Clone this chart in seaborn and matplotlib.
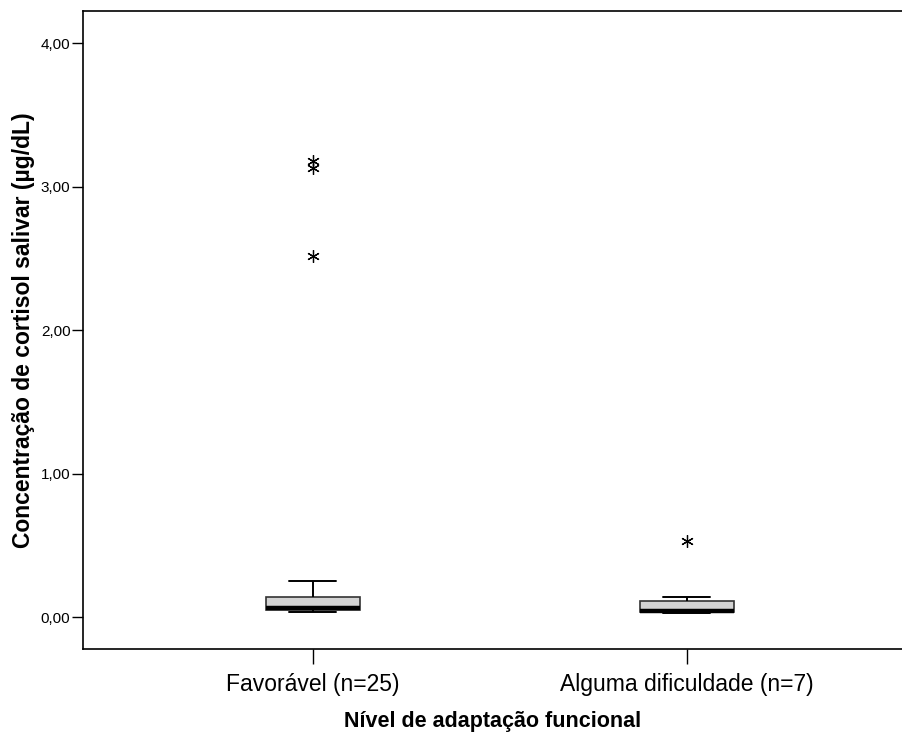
import matplotlib
matplotlib.use("Agg")
import matplotlib.pyplot as plt
import seaborn as sns
import pandas as pd

categories = ["Favorável (n=25)", "Alguma dificuldade (n=7)"]
favoravel = [0.033, 0.036, 0.040, 0.043, 0.045, 0.047, 0.049, 0.052, 0.055,
             0.058, 0.061, 0.064, 0.066, 0.075, 0.085, 0.098, 0.112, 0.128,
             0.142, 0.165, 0.198, 0.251, 2.52, 3.13, 3.18]
dificuldade = [0.030, 0.032, 0.034, 0.044, 0.088, 0.140, 0.53]
yticks = [0.0, 1.0, 2.0, 3.0, 4.0]
ytick_labels = ["0,00", "1,00", "2,00", "3,00", "4,00"]

df = pd.DataFrame({
    "grupo": [categories[0]] * len(favoravel) + [categories[1]] * len(dificuldade),
    "valor": favoravel + dificuldade,
})

sns.set_theme(style="white")
plt.rcParams["font.family"] = ["Liberation Sans", "DejaVu Sans"]
plt.rcParams["text.color"] = "black"
plt.rcParams["axes.labelcolor"] = "black"
plt.rcParams["xtick.color"] = "black"
plt.rcParams["ytick.color"] = "black"

fig = plt.figure(figsize=(9.03, 7.35), dpi=100)
ax = fig.add_axes([83 / 903, 1 - 649 / 735, 1 - 83 / 903, (649 - 11) / 735])

sns.boxplot(data=df, x="grupo", y="valor", order=categories, ax=ax,
            width=0.251, color="#d3d3d3", whis=1.5,
            boxprops=dict(facecolor="#d3d3d3", edgecolor="#333333", linewidth=1.2),
            medianprops=dict(color="black", linewidth=3.2),
            whiskerprops=dict(color="black", linewidth=1.4),
            capprops=dict(color="black", linewidth=1.4),
            flierprops=dict(marker=(6, 2, 0), markersize=9, markeredgecolor="black",
                            markerfacecolor="black", markeredgewidth=0.9))

ax.set_ylim(-0.223, 4.226)
ax.set_xlim(-0.615, 1.578)
ax.set_yticks(yticks)
ax.set_yticklabels(ytick_labels, fontsize=11)
ax.tick_params(axis="y", direction="out", length=8, width=1, color="black", pad=1,
               left=True, labelcolor="black")
ax.tick_params(axis="x", direction="out", length=11, width=1, color="black", pad=6,
               bottom=True, labelsize=16.5, labelcolor="black")

for side in ["left", "bottom", "top"]:
    ax.spines[side].set_visible(True)
    ax.spines[side].set_color("black")
    ax.spines[side].set_linewidth(1.2)
ax.spines["right"].set_visible(False)

ax.set_xlabel("Nível de adaptação funcional", fontsize=15.5, fontweight="bold",
              labelpad=11, color="black")
ax.set_ylabel("Concentração de cortisol salivar (µg/dL)", fontsize=16.5, fontweight="bold",
              labelpad=4, color="black")
ax.grid(False)

fig.savefig("out.png", dpi=100, facecolor="white")
